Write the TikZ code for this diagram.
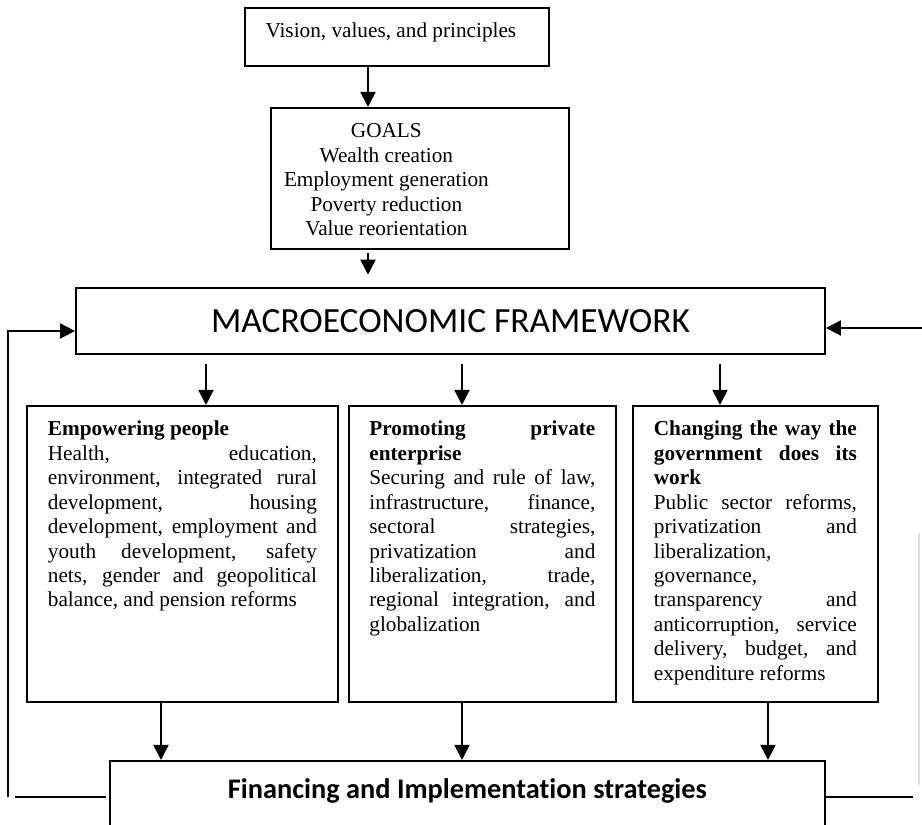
\documentclass[tikz,border=0pt]{standalone}
\usepackage{fontspec}
\setmainfont{Liberation Serif}
\newfontfamily\calib[Ligatures=CommonOff]{Carlito}
\usetikzlibrary{arrows.meta}
\hbadness=10000
\vbadness=10000
\hfuzz=3pt
\vfuzz=100pt
\begin{document}
\begin{tikzpicture}[x=0.5647pt,y=-0.5647pt,
  box/.style={draw, line width=1pt, inner sep=0pt, font=\fontsize{12}{13.8}\selectfont},
  arr/.style={line width=1pt, -{Triangle[length=8.5pt,width=8.5pt]}},
  fb/.style={line width=1pt}]
\useasboundingbox (0,0) rectangle (922,825);
\clip (0,0) rectangle (922,825);

% boxes
\node[box, anchor=north west, text height=16.94pt, text depth=15.81pt] (vision) at (244,7)
  {\makebox[164.89pt]{Vision, values, and principles}\kern6.78pt\relax};

\node[box, anchor=north west, text height=16.94pt, text depth=62.68pt] (goals) at (270,107)
  {\parbox[t]{130.45pt}{\centering GOALS\\Wealth creation\\Employment generation\\Poverty reduction\\Value reorientation}\kern37.83pt\relax};

\node[box, anchor=center, minimum width=422.96pt, minimum height=37.27pt,
      font=\calib\fontsize{20}{24}\selectfont] (macro) at (450.5,321) {MACROECONOMIC FRAMEWORK};

\node[box, anchor=north west, inner xsep=11.86pt, text height=16.94pt, text depth=150.21pt] (boxA) at (26,405)
  {\parbox[t]{151.90pt}{\textbf{Empowering people}\\
  Health, education,\linebreak environment, integrated rural\linebreak development, housing\linebreak
  development, employment and\linebreak youth development, safety\linebreak
  nets, gender and geopolitical\linebreak balance, and pension reforms}};

\node[box, anchor=north west, inner xsep=11.58pt, text height=16.94pt, text depth=150.21pt] (boxB) at (348,405)
  {\parbox[t]{127.62pt}{\textbf{Promoting private\linebreak enterprise}\\
  Securing and rule of law,\linebreak infrastructure, finance,\linebreak sectoral strategies,\linebreak
  privatization and\linebreak liberalization, trade,\linebreak regional integration, and\linebreak globalization}};

\node[box, anchor=north west, inner xsep=11.86pt, text height=16.94pt, text depth=150.21pt] (boxC) at (632,405)
  {\parbox[t]{114.63pt}{\textbf{Changing the way the\linebreak government does its\linebreak work}\\
  Public sector reforms,\linebreak privatization and\linebreak liberalization,\\ governance,\\
  transparency and\linebreak anticorruption, service\linebreak delivery, budget, and\linebreak expenditure reforms}};

\node[box, anchor=north west, minimum width=403.76pt, text height=21.46pt, text depth=33.88pt,
      font=\calib\bfseries\fontsize{16}{19}\selectfont] (fin) at (109,760)
  {Financing and Implementation strategies};

% vertical connectors
\coordinate (x0) at (368,0);
\coordinate (xa) at (206,0);
\coordinate (xb) at (462,0);
\coordinate (xc) at (720,0);
\coordinate (ya) at (161,0);
\coordinate (yb) at (462,0);
\coordinate (yc) at (768,0);

\draw[arr] (vision.south -| x0) -- (goals.north -| x0);
\draw[arr, shorten <=1.7pt, shorten >=7pt] (goals.south -| x0) -- (macro.north -| x0);

\draw[arr, shorten <=5.08pt] (macro.south -| xa) -- (boxA.north -| xa);
\draw[arr, shorten <=5.08pt] (macro.south -| xb) -- (boxB.north -| xb);
\draw[arr, shorten <=5.08pt] (macro.south -| xc) -- (boxC.north -| xc);

\draw[arr] (boxA.south -| ya) -- (fin.north -| ya);
\draw[arr] (boxB.south -| yb) -- (fin.north -| yb);
\draw[arr] (boxC.south -| yc) -- (fin.north -| yc);

% feedback lines
\coordinate (fbL) at (8,797);
\coordinate (fbLh) at (15,797);
\coordinate (fbR) at (922,328);
\coordinate (fbRh) at (913,797);
\draw[arr] (fbL) |- (macro.west |- 0,331);
\draw[fb, shorten >=1.5pt] (fbLh) -- (fin.west |- fbLh);
\draw[arr] (fbR) -- (macro.east |- fbR);
\draw[fb] (fin.east |- fbRh) -- (fbRh);
\draw[line width=1pt, black!12] (919,533) -- (919,785);
\end{tikzpicture}
\end{document}
